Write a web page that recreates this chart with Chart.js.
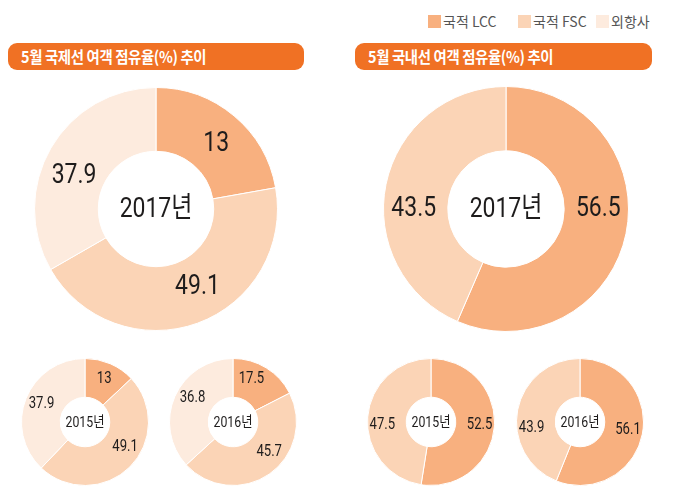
<!DOCTYPE html>
<html>
<head>
<meta charset="utf-8">
<script src="https://cdn.jsdelivr.net/npm/chart.js@4.4.0/dist/chart.umd.min.js"></script>
<style>
  html,body{margin:0;padding:0;background:#fff;}
  #wrap{position:relative;width:678px;height:500px;overflow:hidden;font-family:"Noto Sans CJK KR","Noto Sans",sans-serif;}
  canvas{position:absolute;}
  .hdr{position:absolute;top:43px;height:27px;background:#F07124;border-radius:9px;}
  .hdr span{position:absolute;left:13px;top:2px;color:#fff;font-weight:700;font-size:16px;line-height:22px;white-space:nowrap;transform:scaleX(0.9);transform-origin:left center;letter-spacing:-0.4px;}
  .lg{position:absolute;top:15px;height:14px;font-size:14px;color:#555;line-height:14px;white-space:nowrap;}
  .lg i{position:absolute;left:0;top:0;width:13px;height:13px;}
  .lg span{position:absolute;left:15px;top:-1px;font-weight:400;}
</style>
</head>
<body>
<div id="wrap">
  <div id="legend"></div>
  <div class="hdr" style="left:8px;width:296px;"><span id="h1"></span></div>
  <div class="hdr" style="left:355px;width:297px;"><span id="h2"></span></div>
  <canvas id="c1"></canvas>
  <canvas id="c2"></canvas>
  <canvas id="c3"></canvas>
  <canvas id="c4"></canvas>
  <canvas id="c5"></canvas>
  <canvas id="c6"></canvas>
</div>
<script>
// ---- data ----
const categories = ['국적 LCC', '국적 FSC', '외항사'];
const titles = ['5월 국제선 여객 점유율(%) 추이', '5월 국내선 여객 점유율(%) 추이'];
const years = ['2017년', '2015년', '2016년'];

// International, May 2017: slice sizes as drawn (the printed labels differ from the drawn slices)
const intl2017Shares = [22.2, 44.5, 33.3];
const intl2017Labels = ['13', '49.1', '37.9'];
const intl2015Shares = [13, 49.1, 37.9];
const intl2015Labels = ['13', '49.1', '37.9'];
const intl2016Shares = [17.5, 45.7, 36.8];
const intl2016Labels = ['17.5', '45.7', '36.8'];

// Domestic (LCC, FSC)
const dom2017Shares = [56.5, 43.5];
const dom2017Labels = ['56.5', '43.5'];
const dom2015Shares = [52.5, 47.5];
const dom2015Labels = ['52.5', '47.5'];
const dom2016Shares = [56.1, 43.9];
const dom2016Labels = ['56.1', '43.9'];

// ---- styles ----
const colors = ['#F8B07F', '#FBD4B6', '#FDEBDE'];
const TEXT = '#1E1C1C';

document.getElementById('h1').textContent = titles[0];
document.getElementById('h2').textContent = titles[1];
const legendPos = [428, 518, 596];
document.getElementById('legend').innerHTML = categories.map((c, i) =>
  `<div class="lg" style="left:${legendPos[i]}px"><i style="background:${colors[i]}"></i><span>${c}</span></div>`).join('');

function drawText(ctx, t, x, y, size, color) {
  ctx.save();
  ctx.translate(x, y);
  ctx.scale(0.82, 1);
  ctx.font = `${size}px Roboto, "Noto Sans CJK KR", sans-serif`;
  ctx.fillStyle = color;
  ctx.textAlign = 'center';
  ctx.textBaseline = 'middle';
  ctx.fillText(t, 0, 0);
  ctx.restore();
}

const donutText = {
  id: 'donutText',
  afterDatasetsDraw(chart, args, o) {
    const ctx = chart.ctx;
    const meta = chart.getDatasetMeta(0);
    meta.data.forEach((arc, i) => {
      const p = arc.getProps(['startAngle', 'endAngle', 'innerRadius', 'outerRadius', 'x', 'y'], true);
      const a = (o.angles && o.angles[i] != null) ? (o.angles[i] - 90) * Math.PI / 180 : (p.startAngle + p.endAngle) / 2;
      const r = p.innerRadius + (p.outerRadius - p.innerRadius) * o.rf;
      drawText(ctx, o.labels[i], p.x + Math.cos(a) * r, p.y + Math.sin(a) * r, o.size, TEXT);
    });
    const c = meta.data[0];
    drawText(ctx, o.center, c.x, c.y + 1, o.centerSize, TEXT);
  }
};

function donut(id, cx, cy, r, values, labels, center, opt) {
  const size = Math.round(2 * r + 1);
  const cv = document.getElementById(id);
  cv.width = size; cv.height = size;
  cv.style.left = (cx - size / 2) + 'px';
  cv.style.top = (cy - size / 2) + 'px';
  new Chart(cv, {
    type: 'doughnut',
    data: {
      labels: categories.slice(0, values.length),
      datasets: [{
        data: values,
        backgroundColor: colors.slice(0, values.length),
        borderColor: '#ffffff',
        borderWidth: 1
      }]
    },
    options: {
      responsive: false,
      animation: false,
      cutout: opt.cutout,
      layout: { padding: 0 },
      plugins: {
        legend: { display: false },
        tooltip: { enabled: false },
        donutText: { labels: labels, center: center, size: opt.size, centerSize: opt.centerSize, rf: opt.rf, angles: opt.angles }
      }
    },
    plugins: [donutText]
  });
}

const big = { cutout: '47.5%', size: 28, centerSize: 28, rf: 0.48 };
const small = { cutout: '39%', size: 16, centerSize: 15, rf: 0.58 };

donut('c1', 156, 209, 121.5, intl2017Shares, intl2017Labels, years[0], Object.assign({}, big, { angles: [43, 152, 292] }));
donut('c2', 506, 209, 122.5, dom2017Shares, dom2017Labels, years[0], Object.assign({}, big, { rf: 0.53, angles: [90, 270] }));
donut('c3', 84.5, 421.5, 63.5, intl2015Shares, intl2015Labels, years[1], Object.assign({}, small, { angles: [24, 122, 293] }));
donut('c4', 232.5, 421.5, 63.5, intl2016Shares, intl2016Labels, years[2], Object.assign({}, small, { angles: [23, 130, 301] }));
donut('c5', 431, 421.5, 63.5, dom2015Shares, dom2015Labels, years[1], Object.assign({}, small, { rf: 0.62, angles: [94, 266] }));
donut('c6', 579.5, 421.5, 63.5, dom2016Shares, dom2016Labels, years[2], Object.assign({}, small, { rf: 0.62, angles: [100, 263] }));
</script>
</body>
</html>
